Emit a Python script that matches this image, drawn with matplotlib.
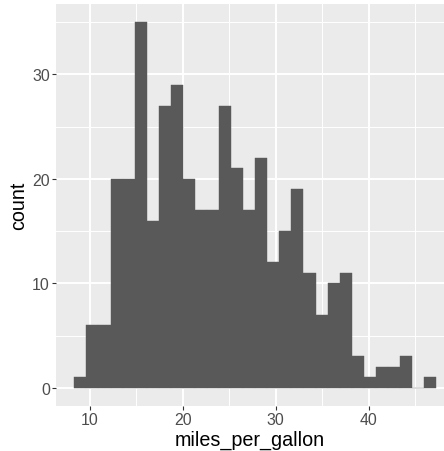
import matplotlib
matplotlib.use("Agg")
import matplotlib.pyplot as plt
import numpy as np

# Data: histogram of miles_per_gallon, 30 bins (ggplot default)
mpg_min = 9.0
mpg_max = 46.6
n_bins = 30
counts = [1, 6, 6, 20, 20, 35, 16, 27, 29, 20,
          17, 17, 27, 21, 17, 22, 12, 15, 19, 11,
          7, 10, 11, 3, 1, 2, 2, 3, 0, 1]
x_ticks = [10, 20, 30, 40]
y_ticks = [0, 10, 20, 30]
x_label = "miles_per_gallon"
y_label = "count"

bin_w = (mpg_max - mpg_min) / (n_bins - 1)
centers = mpg_min + bin_w * np.arange(n_bins)

plt.rcParams['font.family'] = ['Liberation Sans', 'DejaVu Sans']

W, H = 444, 452
fig = plt.figure(figsize=(W / 100, H / 100), dpi=100)
# panel in pixels: left 56, top 5, bottom 407, right beyond image edge
px_per_unit = (368.7 - 89.7) / 30.0
x_left = 10 - (89.7 - 56) / px_per_unit
x_right = 10 + (444 - 89.7) / px_per_unit
ax = fig.add_axes([56 / W, (H - 407) / H, (444 - 56) / W, (407 - 5) / H])
ax.set_facecolor('#EBEBEB')
for s in ax.spines.values():
    s.set_visible(False)

ax.set_xlim(x_left, x_right)
ymax = max(counts)
ax.set_ylim(-0.05 * ymax, ymax * 1.05)

ax.set_xticks(x_ticks)
ax.set_yticks(y_ticks)
ax.set_xticks([t + 5 for t in x_ticks], minor=True)
ax.set_yticks([t + 5 for t in y_ticks], minor=True)
ax.grid(which='major', color='white', linewidth=1.4)
ax.grid(which='minor', color='white', linewidth=0.7)
ax.set_axisbelow(True)

ax.bar(centers, counts, width=bin_w, color='#595959', edgecolor='#595959',
       linewidth=0.3, zorder=2)

ax.tick_params(axis='both', which='major', length=2.6, width=0.8, color='#333333',
               labelsize=11.4, labelcolor='#4D4D4D', pad=1.8)
ax.tick_params(axis='both', which='minor', length=0)
ax.set_xlabel(x_label, fontsize=14.2, color='black', labelpad=2)
ax.set_ylabel(y_label, fontsize=14.2, color='black', labelpad=3)

fig.savefig('out.png', dpi=100, facecolor='white')
